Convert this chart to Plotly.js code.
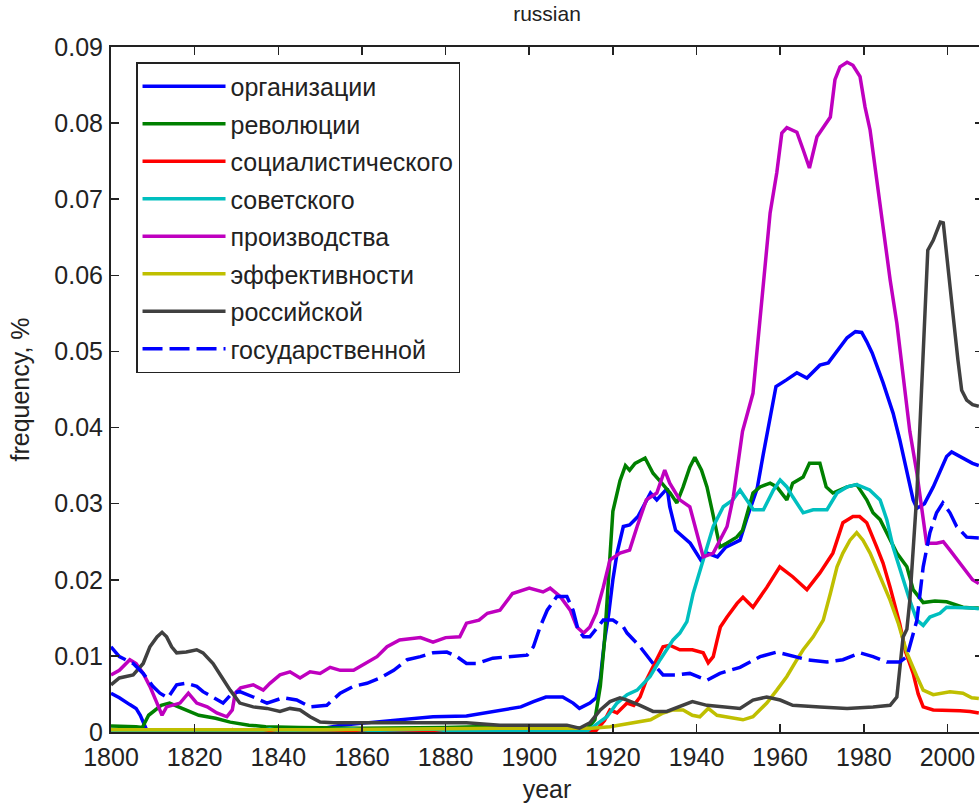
<!DOCTYPE html>
<html>
<head>
<meta charset="utf-8">
<script src="https://cdn.plot.ly/plotly-3.0.1.min.js"></script>
<style>
html,body{margin:0;padding:0;overflow:hidden;background:#fff;}
#chart{width:983px;height:804px;}
</style>
</head>
<body>
<div id="chart"></div>
<script>
// ---- series names ----
const seriesNames = ['организации','революции','социалистического','советского','производства','эффективности','российской','государственной'];

// ---- организации ----
const yearsOrg = [1800,1802,1804.5,1806,1807,1807.7,1808.5,1820,1840,1850,1855,1861,1869,1877,1885,1889,1893,1898,1901,1904,1908,1910.5,1912,1914.5,1916,1917,1918,1919,1920,1921,1922.5,1924,1926,1929,1930.5,1933,1933.6,1935,1938.5,1941,1942.5,1945,1947,1950.4,1952,1954.5,1956,1957.5,1959,1961.6,1964,1966.4,1969.5,1971.5,1973.5,1976,1978,1979.5,1980.7,1982,1984.6,1987,1988.6,1990.3,1991.8,1992.7,1994.5,1996.6,1999.8,2001,2003.7,2006,2007.5];
const valsOrg = [0.0051,0.0045,0.0036,0.0031,0.0022,0.0012,0.0003,0.0002,0.0002,0.0004,0.0009,0.0012,0.0016,0.0020,0.0021,0.0025,0.0029,0.0033,0.0040,0.0046,0.0046,0.0038,0.0031,0.0038,0.0045,0.0070,0.0120,0.0155,0.0200,0.0235,0.0270,0.0272,0.0283,0.0314,0.0305,0.0320,0.0296,0.0265,0.0248,0.0226,0.0235,0.0230,0.0243,0.0252,0.0280,0.0320,0.0366,0.0410,0.0454,0.0463,0.0472,0.0465,0.0482,0.0485,0.0500,0.0518,0.0526,0.0525,0.0513,0.0498,0.0459,0.0419,0.0384,0.0340,0.0305,0.0294,0.0300,0.0322,0.0362,0.0368,0.0360,0.0353,0.0350];

// ---- революции ----
const yearsRev = [1800,1803,1806,1807.5,1809,1812,1814,1817,1821,1825,1828.5,1833,1837,1845,1860,1880,1895,1905,1914,1915.7,1917,1918,1919.3,1920,1921.7,1923,1924,1925.3,1927.7,1929.6,1931.7,1933.7,1935.3,1936.8,1938.4,1939.6,1941.2,1942.5,1943.7,1944.4,1945.6,1947.2,1949.6,1951,1953.5,1955.2,1957.6,1959.2,1961.6,1963,1965.5,1967,1969.5,1971,1972.6,1976,1978.3,1980.7,1982.2,1983.9,1985.5,1987.9,1990.3,1991.8,1994.2,1997,1999.8,2003.7,2006,2007.5];
const valsRev = [0.0008,0.0008,0.0007,0.0006,0.0022,0.0035,0.0038,0.0031,0.0022,0.0018,0.0013,0.0009,0.0007,0.0006,0.0005,0.0006,0.0008,0.0006,0.0005,0.0016,0.0060,0.0120,0.0226,0.0290,0.0330,0.0350,0.0344,0.0353,0.0360,0.0340,0.0327,0.0314,0.0301,0.0322,0.0348,0.0361,0.0344,0.0322,0.0292,0.0275,0.0243,0.0248,0.0256,0.0265,0.0314,0.0322,0.0327,0.0322,0.0305,0.0327,0.0335,0.0353,0.0353,0.0322,0.0314,0.0322,0.0325,0.0305,0.0288,0.0279,0.0262,0.0235,0.0217,0.0187,0.0170,0.0172,0.0171,0.0164,0.0163,0.0163];

// ---- социалистического ----
const yearsSoc = [1800,1828,1829,1830,1879,1880,1881,1916,1918,1919.3,1921,1923.4,1925,1926.5,1928,1929.6,1932,1933.6,1936,1939,1941.6,1942.8,1944,1944.9,1945.7,1947.3,1949.7,1951.1,1953.5,1956.8,1959.9,1963,1966.4,1969.5,1972.6,1975,1977.4,1979,1980.7,1983.1,1984.6,1986.3,1988.6,1990,1991.8,1993,1994.2,1996.6,2001.4,2003,2005.4,2007.5];
const valsSoc = [0.0001,0.0001,0.0003,0.0001,0.0001,0.0003,0.0001,0.0002,0.0015,0.0029,0.0025,0.0038,0.0035,0.0046,0.0068,0.0085,0.0112,0.0114,0.0108,0.0108,0.0104,0.0091,0.0099,0.0120,0.0138,0.0151,0.0169,0.0177,0.0164,0.0190,0.0217,0.0204,0.0187,0.0209,0.0235,0.0275,0.0283,0.0283,0.0275,0.0243,0.0222,0.0190,0.0142,0.0105,0.0077,0.0050,0.0033,0.0029,0.0029,0.0028,0.0027,0.0025];

// ---- советского ----
const yearsSov = [1800,1836,1838,1840,1852,1858,1862,1874,1877,1880,1914,1915.3,1918.6,1921,1923.4,1925.8,1928.9,1931.3,1934.4,1936,1937.7,1939.2,1941.5,1944,1946.4,1948.7,1950.4,1952,1953.6,1956,1958.4,1960,1961.6,1963,1965.5,1967.9,1971.2,1973.6,1976,1978.3,1981.4,1983.9,1985.5,1987,1989.4,1991,1992.7,1994.2,1995.8,1998.2,1999.8,2002.2,2006,2007.5];
const valsSov = [0.0001,0.0002,0.0004,0.0002,0.0003,0.0004,0.0002,0.0003,0.0004,0.0002,0.0002,0.0007,0.0020,0.0038,0.0049,0.0055,0.0073,0.0095,0.0121,0.0130,0.0145,0.0182,0.0226,0.0270,0.0296,0.0305,0.0318,0.0305,0.0292,0.0292,0.0318,0.0331,0.0322,0.0309,0.0288,0.0292,0.0292,0.0314,0.0322,0.0325,0.0318,0.0305,0.0279,0.0243,0.0200,0.0173,0.0147,0.0140,0.0151,0.0156,0.0164,0.0164,0.0163,0.0162];

// ---- производства ----
const yearsPro = [1800,1802,1804.5,1806,1807.7,1809.3,1811,1812.2,1813.3,1814.5,1816.5,1818.5,1820.5,1823,1825.3,1827.7,1829,1829.7,1831,1834,1836.4,1838,1840.4,1842.8,1845.2,1847.6,1850,1852.4,1854.8,1858,1861,1863.6,1866,1869,1874,1877,1880,1883.4,1885,1888,1890,1893,1896,1900,1903.3,1905,1907.4,1909.8,1911.4,1913,1914.5,1916,1917.7,1919.3,1921.7,1924,1925.8,1928,1930.5,1932.4,1933.6,1936,1938.4,1940,1941.6,1944,1947.3,1948.8,1951,1953.5,1956,1957.6,1959.2,1960.4,1961.6,1964,1965.5,1967,1968.8,1970.3,1972,1973.1,1974.3,1976,1977.4,1979.1,1980.3,1981.5,1983.2,1984.6,1986.3,1987.9,1989.4,1991,1992.7,1994.2,1995,1997.4,1999,2000.6,2003,2006,2007.5];
const valsPro = [0.0075,0.0081,0.0095,0.0090,0.0077,0.0060,0.0038,0.0022,0.0033,0.0035,0.0038,0.0051,0.0038,0.0033,0.0025,0.0020,0.0029,0.0051,0.0058,0.0062,0.0055,0.0064,0.0075,0.0079,0.0071,0.0079,0.0077,0.0085,0.0081,0.0081,0.0090,0.0099,0.0112,0.0121,0.0124,0.0118,0.0124,0.0125,0.0143,0.0147,0.0156,0.0160,0.0182,0.0189,0.0184,0.0189,0.0178,0.0160,0.0138,0.0130,0.0138,0.0156,0.0190,0.0226,0.0235,0.0239,0.0270,0.0305,0.0314,0.0344,0.0327,0.0305,0.0296,0.0262,0.0230,0.0235,0.0270,0.0309,0.0395,0.0445,0.0594,0.0682,0.0735,0.0787,0.0794,0.0788,0.0765,0.0741,0.0782,0.0795,0.0808,0.0857,0.0874,0.0880,0.0876,0.0861,0.0821,0.0791,0.0721,0.0664,0.0594,0.0537,0.0472,0.0395,0.0340,0.0283,0.0248,0.0248,0.0250,0.0239,0.0222,0.0200,0.0195];

// ---- эффективности ----
const yearsEff = [1800,1850,1893,1915,1919.3,1925,1929,1932,1934.4,1936.8,1939,1940.8,1942.8,1944.9,1948.7,1951.1,1953.5,1956.8,1959.2,1961.6,1964,1965.5,1967.9,1970.3,1972,1973.6,1975,1976.7,1978.3,1979.8,1981.5,1983.9,1986.3,1988.3,1990.3,1992.7,1994.2,1996.6,2000.6,2003.7,2005.8,2007.5];
const valsEff = [0.0003,0.0003,0.0005,0.0005,0.0007,0.0012,0.0016,0.0025,0.0029,0.0029,0.0022,0.0020,0.0031,0.0022,0.0018,0.0016,0.0020,0.0038,0.0055,0.0073,0.0095,0.0108,0.0125,0.0147,0.0182,0.0217,0.0235,0.0252,0.0262,0.0252,0.0235,0.0204,0.0173,0.0142,0.0104,0.0073,0.0055,0.0049,0.0053,0.0051,0.0045,0.0044];

// ---- российской ----
const yearsRos = [1800,1802,1805.3,1807.7,1809.3,1811,1812.2,1813.3,1814.5,1815.7,1818,1820.5,1822,1824.4,1826.5,1828.5,1830.8,1834,1837.3,1840.4,1842.8,1845.2,1847.6,1850,1853.2,1861.2,1869,1877,1885,1893,1909,1912,1914.5,1917,1919.3,1921.7,1923.4,1926.5,1929.6,1932.9,1936,1939,1942.5,1945.6,1950.4,1953.5,1956.8,1960,1963,1969.5,1976,1982.2,1986.3,1987.9,1988.6,1989.4,1990.3,1991,1992.7,1993.4,1994.2,1995,1995.3,1996.6,1998.3,1999,2000.2,2001.3,2002.5,2003.4,2004.6,2006,2007.5];
const valsRos = [0.0062,0.0071,0.0075,0.0090,0.0112,0.0125,0.0131,0.0125,0.0112,0.0104,0.0105,0.0108,0.0104,0.0090,0.0072,0.0055,0.0038,0.0033,0.0031,0.0027,0.0031,0.0029,0.0020,0.0013,0.0012,0.0012,0.0012,0.0013,0.0012,0.0009,0.0009,0.0005,0.0012,0.0029,0.0040,0.0045,0.0042,0.0035,0.0027,0.0027,0.0033,0.0040,0.0035,0.0033,0.0031,0.0042,0.0046,0.0042,0.0035,0.0033,0.0031,0.0033,0.0035,0.0046,0.0081,0.0125,0.0135,0.0173,0.0314,0.0400,0.0500,0.0580,0.0633,0.0646,0.0670,0.0669,0.0603,0.0550,0.0489,0.0449,0.0436,0.0430,0.0428];

// ---- государственной ----
const yearsGos = [1800,1802,1805.3,1807.7,1810,1811.7,1813.6,1815.7,1818,1820.5,1822,1824.4,1826.8,1829,1830.8,1834,1837.3,1841.2,1844.4,1847.6,1851.6,1854.8,1858,1861.2,1864.4,1867.6,1870.8,1874,1877,1880.3,1882.7,1885,1887.5,1891.3,1895.4,1899.5,1901,1902.6,1904.3,1906.6,1909,1910.5,1911.7,1913,1914.5,1916,1917.7,1920,1922.5,1923.4,1926.5,1929.6,1932,1935.3,1938.4,1942.5,1945.6,1950.4,1955.2,1959.2,1962.3,1966.4,1971.2,1975,1979.1,1982.2,1985.5,1988.6,1990.3,1991.8,1992.7,1994.2,1995.8,1997.4,1998.9,2000.6,2002.2,2004.6,2007.5];
const valsGos = [0.0112,0.0099,0.0090,0.0077,0.0060,0.0051,0.0045,0.0062,0.0064,0.0060,0.0053,0.0046,0.0038,0.0051,0.0053,0.0046,0.0038,0.0045,0.0042,0.0033,0.0035,0.0051,0.0060,0.0064,0.0071,0.0081,0.0095,0.0099,0.0104,0.0105,0.0099,0.0090,0.0090,0.0097,0.0099,0.0101,0.0112,0.0138,0.0160,0.0178,0.0178,0.0160,0.0134,0.0125,0.0125,0.0135,0.0147,0.0147,0.0138,0.0130,0.0112,0.0090,0.0075,0.0075,0.0077,0.0068,0.0077,0.0085,0.0099,0.0105,0.0101,0.0095,0.0092,0.0095,0.0104,0.0099,0.0092,0.0092,0.0099,0.0130,0.0147,0.0217,0.0262,0.0288,0.0301,0.0288,0.0270,0.0256,0.0255];

const xsList = [yearsOrg,yearsRev,yearsSoc,yearsSov,yearsPro,yearsEff,yearsRos,yearsGos];
const ysList = [valsOrg,valsRev,valsSoc,valsSov,valsPro,valsEff,valsRos,valsGos];
const colors = ['#0000ff','#008000','#ff0000','#00bfbf','#bf00bf','#bfbf00','#404040','#0000ff'];
const dashes = ['solid','solid','solid','solid','solid','solid','solid','20px,7px'];

const traces = seriesNames.map((n,i)=>({
  type:'scatter', mode:'lines', name:n,
  x:xsList[i], y:ysList[i],
  legendgroup:'g'+i,
  line:{color:colors[i], width:3.5, dash:dashes[i]}
}));

const FONT = 'Liberation Sans, Arial, sans-serif';
const FS = 25;
const layout = {
  width:983, height:804,
  margin:{l:111, r:0, t:47, b:72},
  paper_bgcolor:'#fff', plot_bgcolor:'#fff',
  font:{family:FONT, size:FS, color:'#222'},
  title:{text:'russian', font:{family:FONT, size:21, color:'#222'}, xref:'paper', x:0.5, xanchor:'center', yref:'container', y:0.983, yanchor:'middle'},
  xaxis:{
    range:[1800,2008.5], tickvals:[1800,1820,1840,1860,1880,1900,1920,1940,1960,1980,2000],
    ticks:'inside', ticklen:8, tickwidth:1.5, tickcolor:'#222',
    showline:true, linecolor:'#222', linewidth:2, mirror:'ticks',
    showgrid:false, zeroline:false, ticklabelstandoff:2,
    tickfont:{family:FONT, size:FS, color:'#222'},
    title:{text:'year', font:{family:FONT, size:FS, color:'#222'}, standoff:10}
  },
  yaxis:{
    range:[0,0.09], tickvals:[0,0.01,0.02,0.03,0.04,0.05,0.06,0.07,0.08,0.09],
    ticktext:['0','0.01','0.02','0.03','0.04','0.05','0.06','0.07','0.08','0.09'],
    ticks:'inside', ticklen:8, tickwidth:1.5, tickcolor:'#222',
    showline:true, linecolor:'#222', linewidth:2, mirror:'ticks',
    showgrid:false, zeroline:false, ticklabelstandoff:1,
    tickfont:{family:FONT, size:FS, color:'#222'},
    title:{text:'frequency, %', font:{family:FONT, size:FS, color:'#222'}, standoff:18}
  },
  showlegend:true,
  legend:{
    x:0.0287, y:0.978, xanchor:'left', yanchor:'top',
    bgcolor:'#fff', bordercolor:'#222', borderwidth:1.5,
    font:{family:FONT, size:FS, color:'#222'},
    traceorder:'grouped', tracegroupgap:2, itemwidth:83
  }
};

Plotly.newPlot('chart', traces, layout, {displayModeBar:false, staticPlot:true});
</script>
</body>
</html>
